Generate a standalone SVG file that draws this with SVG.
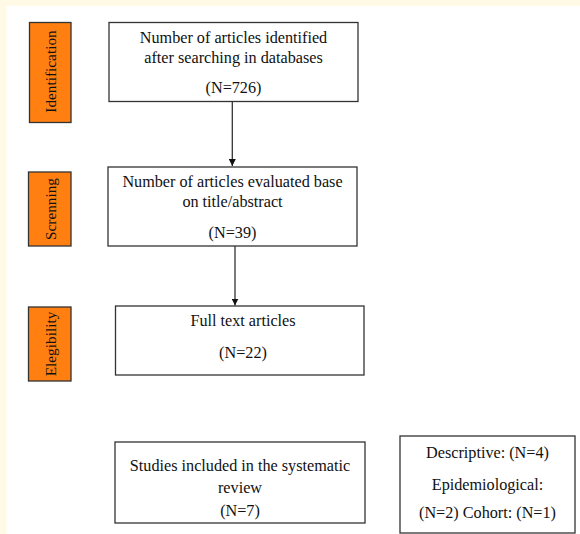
<svg xmlns="http://www.w3.org/2000/svg" width="580" height="534" viewBox="0 0 580 534">
<defs>
<style>
.box{fill:#ffffff;stroke:#333333;stroke-width:1.3}
.lab{fill:#ff7f11;stroke:#333333;stroke-width:1.3}
.t{font-family:"Liberation Serif","Times New Roman",serif;font-size:16.2px;fill:#111111;text-anchor:middle}
.v{font-family:"Liberation Serif","Times New Roman",serif;font-size:15.3px;fill:#111111;text-anchor:middle}
.c{stroke:#333333;stroke-width:1.3;fill:none}
</style>
<marker id="ah" viewBox="0 0 10 10" refX="10" refY="5" markerWidth="7" markerHeight="7" markerUnits="userSpaceOnUse" orient="auto">
<path d="M0,0 L10,5 L0,10 z" fill="#111111"/>
</marker>
</defs>
<rect x="0" y="0" width="580" height="534" fill="#ffffff"/>
<rect x="0" y="0" width="580" height="6" fill="#fffae6"/>
<rect x="0" y="0" width="6.5" height="534" fill="#fffae6"/>

<g id="label-identification">
<rect class="lab" x="29.5" y="22.5" width="41.5" height="100"/>
<text class="v" transform="translate(55.5,71.5) rotate(-90)">Identification</text>
</g>
<g id="label-screening">
<rect class="lab" x="28.5" y="172" width="42.5" height="74"/>
<text class="v" transform="translate(55.5,209) rotate(-90)">Screnning</text>
</g>
<g id="label-elegibility">
<rect class="lab" x="28.5" y="307" width="42.5" height="74"/>
<text class="v" transform="translate(55.5,344) rotate(-90)">Elegibility</text>
</g>

<g id="node-identified">
<rect class="box" x="109" y="22.5" width="249" height="79"/>
<text class="t" x="233.5" y="43">Number of articles identified</text>
<text class="t" x="233.5" y="63">after searching in databases</text>
<text class="t" x="233.5" y="93">(N=726)</text>
</g>
<g id="node-screened">
<rect class="box" x="108" y="167" width="249" height="79"/>
<text class="t" x="232.5" y="187">Number of articles evaluated base</text>
<text class="t" x="232.5" y="207">on title/abstract</text>
<text class="t" x="232.5" y="238">(N=39)</text>
</g>
<g id="node-fulltext">
<rect class="box" x="115.5" y="306" width="248.5" height="69"/>
<text class="t" x="243" y="326">Full text articles</text>
<text class="t" x="243" y="358">(N=22)</text>
</g>
<g id="node-included">
<rect class="box" x="115" y="442" width="250" height="81"/>
<text class="t" x="240" y="471">Studies included in the systematic</text>
<text class="t" x="240" y="493">review</text>
<text class="t" x="240" y="516">(N=7)</text>
</g>
<g id="node-types">
<rect class="box" x="400" y="436" width="175" height="97"/>
<text class="t" x="487.5" y="458">Descriptive: (N=4)</text>
<text class="t" x="487.5" y="490">Epidemiological:</text>
<text class="t" x="487.5" y="518">(N=2) Cohort: (N=1)</text>
</g>

<g id="connectors">
<line class="c" x1="232.3" y1="101.5" x2="232.3" y2="166" marker-end="url(#ah)"/>
<line class="c" x1="235" y1="246" x2="235" y2="305.5" marker-end="url(#ah)"/>
</g>
</svg>
